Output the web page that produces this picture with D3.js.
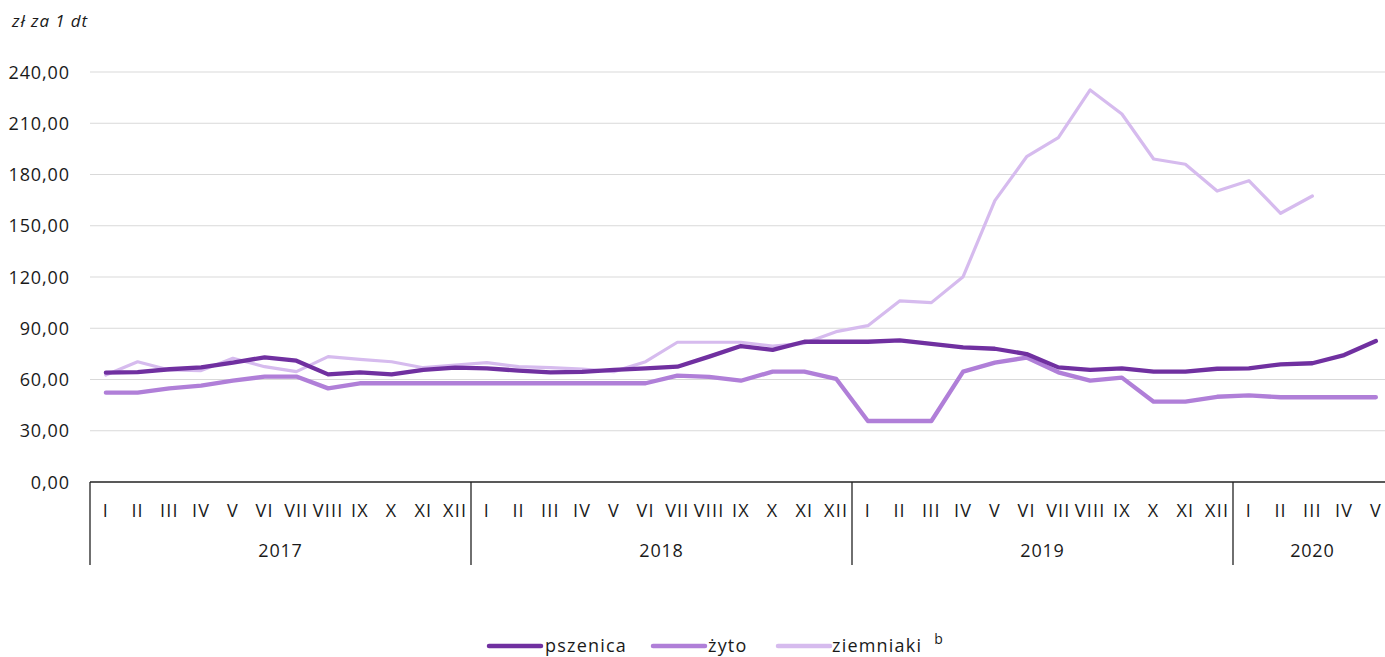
<!DOCTYPE html>
<html><head><meta charset="utf-8">
<script src="https://cdn.jsdelivr.net/npm/d3@7/dist/d3.min.js"></script>
<style>body{margin:0;background:#fff}svg{display:block;font-family:"Open Sans","Noto Sans",sans-serif}</style>
</head><body><svg id="c" width="1385" height="657"></svg>
<script>
const months = ["I","II","III","IV","V","VI","VII","VIII","IX","X","XI","XII"];
const years = ["2017","2018","2019","2020"];
const monthsPerYear = [12,12,12,5];
const yTicks = [0,30,60,90,120,150,180,210,240];
const pszenica = [64.0,64.3,66.0,67.1,69.9,73.0,71.0,63.0,64.2,63.0,65.6,66.9,
  66.5,65.2,64.2,64.5,65.6,66.5,67.5,73.4,79.6,77.3,82.1,82.1,
  82.1,82.9,80.8,78.8,78.0,74.9,67.1,65.6,66.5,64.6,64.6,66.3,
  66.5,68.9,69.5,74.3,82.5];
const zyto = [52.3,52.3,54.8,56.4,59.3,61.7,61.7,54.8,57.8,57.8,57.8,57.8,
  57.8,57.8,57.8,57.8,57.8,57.8,62.3,61.5,59.3,64.6,64.6,60.4,
  35.7,35.7,35.7,64.6,69.9,72.8,64.2,59.3,61.1,47.0,47.0,49.9,
  50.7,49.6,49.6,49.6,49.6];
const ziemniaki = [62.6,70.4,65.6,65.2,72.4,67.5,64.6,73.4,71.8,70.4,66.9,68.5,
  69.9,67.5,66.9,66.1,64.6,70.4,81.8,81.8,81.8,79.6,81.2,88.0,
  91.5,106.0,105.0,120.2,164.7,190.4,201.6,229.5,215.4,189.1,186.0,170.3,
  176.4,157.3,167.4,null,null];
const seriesNames = ["pszenica","żyto","ziemniaki"];

(function(){
const svg = d3.select("#c");
const left = 90, plotTop = 72, bottom = 482;
const n = pszenica.length;
const bw = 31.75;
const x = d3.scaleBand().domain(d3.range(n)).range([left, left + n*bw]);
const y = d3.scaleLinear().domain([0,240]).range([bottom, plotTop]);
const right = 1385;
const txt = "#1a1a1a";

svg.append("g").selectAll("line").data(yTicks.filter(d=>d>0)).join("line")
  .attr("x1", left).attr("x2", right).attr("y1", d=>y(d)).attr("y2", d=>y(d))
  .attr("stroke", "#d9d9d9").attr("stroke-width", 1.2);
svg.append("g").selectAll("text").data(yTicks).join("text")
  .attr("x", 70).attr("y", d=>y(d)+6.5).attr("text-anchor","end")
  .attr("font-size", 18).attr("letter-spacing", 0.9).attr("fill", txt)
  .text(d=>d3.format(".2f")(d).replace(".", ","));
svg.append("text").attr("x", 12).attr("y", 27).attr("font-size", 17).attr("letter-spacing", 0.9)
  .attr("font-style","italic").attr("fill",txt).text("zł za 1 dt");

svg.append("line").attr("x1", left).attr("x2", right).attr("y1", bottom).attr("y2", bottom)
  .attr("stroke", "#222").attr("stroke-width", 1.3);
let idx = 0;
const bounds = [0];
monthsPerYear.forEach(m=>{ idx += m; bounds.push(idx); });
const bx = d => d < n ? x(d) : left + n*bw;
svg.append("g").selectAll("line").data(bounds).join("line")
  .attr("x1", bx).attr("x2", bx)
  .attr("y1", bottom).attr("y2", 565).attr("stroke", "#222").attr("stroke-width", 1.3);
const monthLabels = d3.range(n).map(i => months[i % 12]);
svg.append("g").selectAll("text").data(monthLabels).join("text")
  .attr("x", (d,i)=>x(i)+bw/2).attr("y", 517).attr("text-anchor","middle")
  .attr("font-size", 18).attr("letter-spacing", 1.2).attr("fill",txt).text(d=>d);
svg.append("g").selectAll("text").data(years).join("text")
  .attr("x", (d,i)=> (bx(bounds[i]) + bx(bounds[i+1]))/2)
  .attr("y", 557).attr("text-anchor","middle").attr("font-size", 18).attr("letter-spacing", 0.8).attr("fill",txt).text(d=>d);

const colors = ["#7030a0","#b07fd8","#d6bbee"];
const widths = [4.3, 4.3, 3.2];
const data = [pszenica, zyto, ziemniaki];
const line = d3.line().defined(d=>d!=null).x((d,i)=>x(i)+bw/2).y(d=>y(d));
[2,1,0].forEach(k=>{
  svg.append("path").datum(data[k]).attr("d", line).attr("fill","none")
    .attr("stroke", colors[k]).attr("stroke-width", widths[k])
    .attr("stroke-linejoin","round").attr("stroke-linecap","round");
});

const leg = [{x:489,t:545},{x:653,t:708},{x:778,t:832}];
let lastEnd = 0;
leg.forEach((l,k)=>{
  svg.append("line").attr("x1", l.x).attr("x2", l.x+52).attr("y1", 646).attr("y2", 646)
    .attr("stroke", colors[k]).attr("stroke-width", 4.5).attr("stroke-linecap","round");
  const t = svg.append("text").attr("x", l.t).attr("y", 652).attr("font-size", 18)
    .attr("letter-spacing", 1.2).attr("fill",txt).text(seriesNames[k]);
  lastEnd = l.t + t.node().getComputedTextLength();
});
svg.append("text").attr("x", Math.max(lastEnd + 12, 933)).attr("y", 644).attr("font-size", 14).attr("fill",txt).text("b");
})();
</script></body></html>
